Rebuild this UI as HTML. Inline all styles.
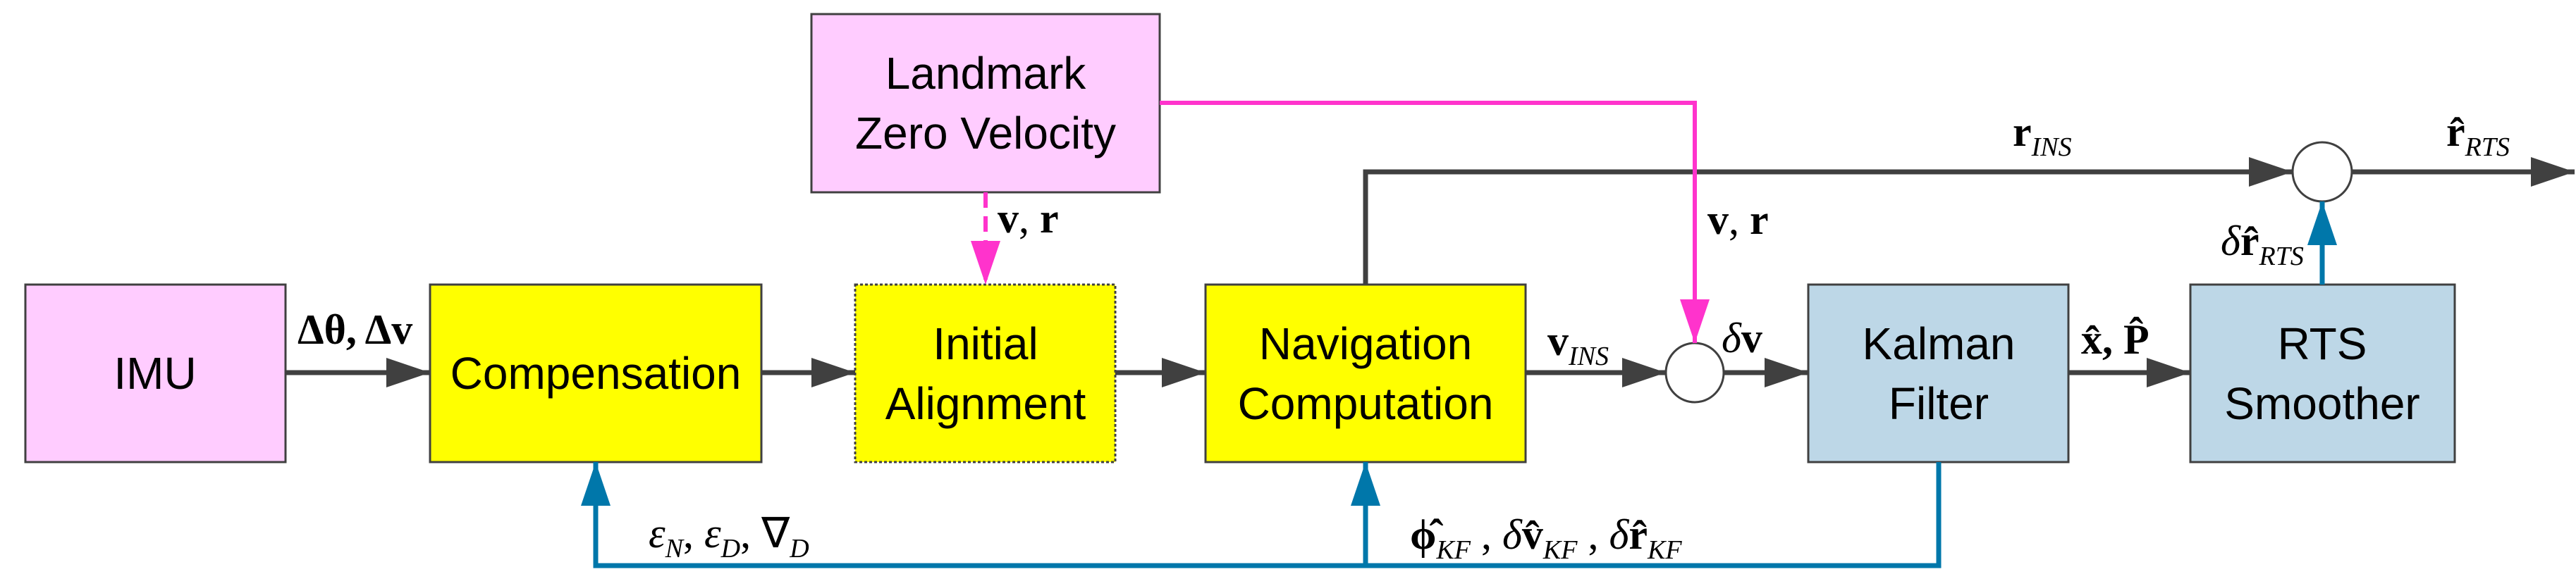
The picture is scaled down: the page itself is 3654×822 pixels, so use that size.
<!DOCTYPE html>
<html><head><meta charset="utf-8"><style>
html,body{margin:0;padding:0;background:#fff;width:3654px;height:822px;overflow:hidden}
svg{display:block}
.box{font-family:"Liberation Sans Narrow","Liberation Sans",sans-serif;font-size:64px;fill:#000;text-anchor:middle}
.m{font-family:"Liberation Serif",serif;font-size:60px;fill:#000}
.b{font-weight:bold}
.s{font-style:italic;font-size:38px}
</style></head><body>
<svg width="3654" height="822" viewBox="0 0 3654 822" xmlns="http://www.w3.org/2000/svg">
<defs>
<marker id="ag" markerWidth="62" markerHeight="42" refX="62" refY="21" markerUnits="userSpaceOnUse" orient="auto"><path d="M0,0 L62,21 L0,42 z" fill="#404040"/></marker>
<marker id="am" markerWidth="62" markerHeight="42" refX="62" refY="21" markerUnits="userSpaceOnUse" orient="auto"><path d="M0,0 L62,21 L0,42 z" fill="#ff33cc"/></marker>
<marker id="ab" markerWidth="62" markerHeight="42" refX="62" refY="21" markerUnits="userSpaceOnUse" orient="auto"><path d="M0,0 L62,21 L0,42 z" fill="#0077aa"/></marker>
</defs>
<rect x="36" y="404" width="369" height="252" fill="#ffccff" stroke="#404040" stroke-width="3"/>
<rect x="610" y="404" width="470" height="252" fill="#ffff00" stroke="#404040" stroke-width="3"/>
<rect x="1213" y="404" width="369" height="252" fill="#ffff00" stroke="#404040" stroke-width="3" stroke-dasharray="4,3"/>
<rect x="1710" y="404" width="454" height="252" fill="#ffff00" stroke="#404040" stroke-width="3"/>
<rect x="1151" y="20" width="494" height="253" fill="#ffccff" stroke="#404040" stroke-width="3"/>
<rect x="2565" y="404" width="369" height="252" fill="#bdd7e7" stroke="#404040" stroke-width="3"/>
<rect x="3107" y="404" width="375" height="252" fill="#bdd7e7" stroke="#404040" stroke-width="3"/>
<text class="box" x="220" y="552">IMU</text>
<text class="box" x="845" y="552">Compensation</text>
<text class="box" x="1398" y="510">Initial</text>
<text class="box" x="1398" y="595">Alignment</text>
<text class="box" x="1937" y="510">Navigation</text>
<text class="box" x="1937" y="595">Computation</text>
<text class="box" x="1398" y="126">Landmark</text>
<text class="box" x="1398" y="211">Zero Velocity</text>
<text class="box" x="2750" y="510">Kalman</text>
<text class="box" x="2750" y="595">Filter</text>
<text class="box" x="3294" y="510">RTS</text>
<text class="box" x="3294" y="595">Smoother</text>
<ellipse cx="2404" cy="529" rx="41" ry="42" fill="#fff" stroke="#404040" stroke-width="3"/>
<ellipse cx="3294" cy="244" rx="42" ry="42" fill="#fff" stroke="#404040" stroke-width="3"/>
<g stroke="#404040" stroke-width="7" fill="none">
<line x1="405" y1="529" x2="610" y2="529" marker-end="url(#ag)"/>
<line x1="1080" y1="529" x2="1213" y2="529" marker-end="url(#ag)"/>
<line x1="1582" y1="529" x2="1710" y2="529" marker-end="url(#ag)"/>
<line x1="2164" y1="529" x2="2363" y2="529" marker-end="url(#ag)"/>
<line x1="2445" y1="529" x2="2565" y2="529" marker-end="url(#ag)"/>
<line x1="2934" y1="529" x2="3107" y2="529" marker-end="url(#ag)"/>
<polyline points="1937,404 1937,244 3252,244" marker-end="url(#ag)"/>
<line x1="3336" y1="244" x2="3652" y2="244" marker-end="url(#ag)"/>
</g>
<g stroke="#ff33cc" stroke-width="6" fill="none">
<polyline points="1645,146 2404,146 2404,487" marker-end="url(#am)"/>
<line x1="1398" y1="273" x2="1398" y2="404" stroke-dasharray="22,12" marker-end="url(#am)"/>
</g>
<g stroke="#0077aa" stroke-width="7" fill="none">
<line x1="3294" y1="404" x2="3294" y2="286" marker-end="url(#ab)"/>
<polyline points="2750,656 2750,803 845,803 845,656" marker-end="url(#ab)"/>
<line x1="1937" y1="803" x2="1937" y2="656" marker-end="url(#ab)"/>
</g>
<text class="m b" x="422" y="488">Δθ, Δv</text>
<text class="m" x="1415" y="330"><tspan class="b">v</tspan>, <tspan class="b">r</tspan></text>
<text class="m" x="2422" y="332"><tspan class="b">v</tspan>, <tspan class="b">r</tspan></text>
<text class="m" x="2195" y="504"><tspan class="b">v</tspan><tspan class="s" dy="14">INS</tspan></text>
<text class="m" x="2442" y="500"><tspan font-style="italic">δ</tspan><tspan class="b">v</tspan></text>
<text class="m b" x="2952" y="502">x̂, P̂</text>
<text class="m" x="2855" y="207"><tspan class="b">r</tspan><tspan class="s" dy="14">INS</tspan></text>
<text class="m" x="3470" y="207"><tspan class="b">r̂</tspan><tspan class="s" dy="14">RTS</tspan></text>
<text class="m" x="3150" y="362"><tspan font-style="italic">δ</tspan><tspan class="b">r̂</tspan><tspan class="s" dy="14">RTS</tspan></text>
<text class="m" x="920" y="777"><tspan font-style="italic">ε</tspan><tspan class="s" dy="14">N</tspan><tspan dy="-14">, </tspan><tspan font-style="italic">ε</tspan><tspan class="s" dy="14">D</tspan><tspan dy="-14">, ∇</tspan><tspan class="s" dy="14">D</tspan></text>
<text class="m" x="2000" y="779"><tspan class="b">ϕ̂</tspan><tspan class="s" dy="14">KF</tspan><tspan dy="-14"> , </tspan><tspan font-style="italic">δ</tspan><tspan class="b">v̂</tspan><tspan class="s" dy="14">KF</tspan><tspan dy="-14"> , </tspan><tspan font-style="italic">δ</tspan><tspan class="b">r̂</tspan><tspan class="s" dy="14">KF</tspan></text>
</svg>
</body></html>
